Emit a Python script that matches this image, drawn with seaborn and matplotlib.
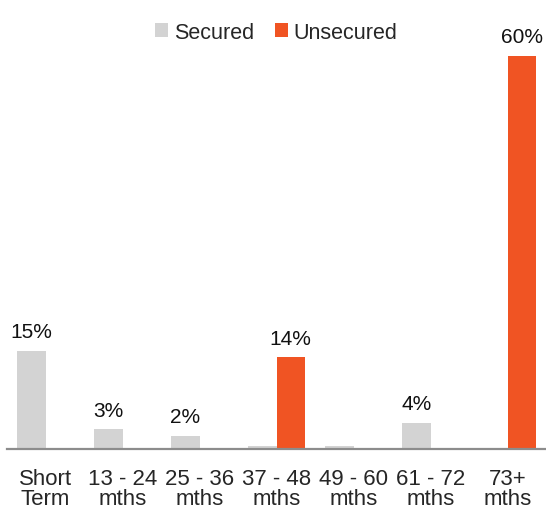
import seaborn as sns
import pandas as pd
import matplotlib.pyplot as plt

categories = ["Short\nTerm", "13 - 24\nmths", "25 - 36\nmths", "37 - 48\nmths",
              "49 - 60\nmths", "61 - 72\nmths", "73+\nmths"]
secured = [15, 3, 2, 0.4, 0.4, 4, 0]
unsecured = [0, 0, 0, 14, 0, 0, 60]
secured_labels = ["15%", "3%", "2%", "", "", "4%", ""]
unsecured_labels = ["", "", "", "14%", "", "", "60%"]

colors = {"Secured": "#D3D3D3", "Unsecured": "#F05423"}

df = pd.DataFrame({
    "Category": categories * 2,
    "Value": secured + unsecured,
    "Type": ["Secured"] * len(categories) + ["Unsecured"] * len(categories),
})

sns.set_theme(style="white")
plt.rcParams["font.family"] = ["Liberation Sans", "DejaVu Sans"]

fig = plt.figure(figsize=(5.46, 5.10), dpi=100)
ax = fig.add_axes([0.013, 0.1176, 0.987, 0.83])

sns.barplot(data=df, x="Category", y="Value", hue="Type", palette=colors,
            width=0.73, gap=0, saturation=1, linewidth=0, ax=ax)

for cont, labs in zip(ax.containers, [secured_labels, unsecured_labels]):
    ax.bar_label(cont, labels=labs, padding=7, fontsize=15, color="#111111")

ax.set_xlim(-0.5, 6.5)
ax.set_ylim(0, 64.6)
ax.set_xlabel("")
ax.set_ylabel("")
ax.set_yticks([])
for s in ["top", "right", "left"]:
    ax.spines[s].set_visible(False)
ax.spines["bottom"].set_color("#8C8C8C")
ax.spines["bottom"].set_linewidth(1.6)
ax.tick_params(axis="x", length=0, pad=14, labelsize=16)
for t in ax.get_xticklabels():
    t.set_linespacing(0.92)

ax.legend(loc="center", bbox_to_anchor=(0.5, 0.985), ncol=2, frameon=False,
          fontsize=15.5, handlelength=0.6, handleheight=0.6, handletextpad=0.25,
          columnspacing=1.0, borderaxespad=0)

fig.savefig("out.png", dpi=100)
